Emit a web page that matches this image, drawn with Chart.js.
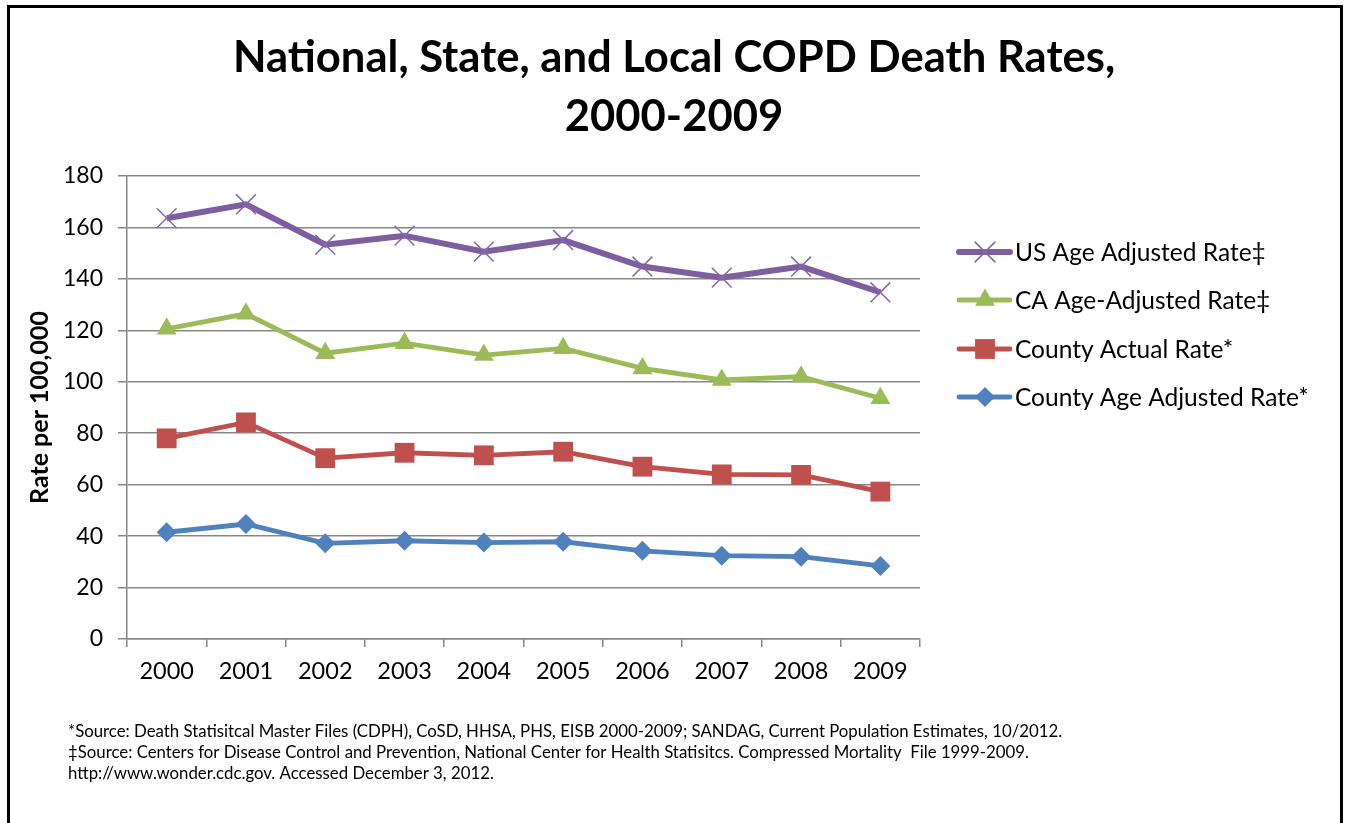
<!DOCTYPE html>
<html>
<head>
<meta charset="utf-8">
<title>National, State, and Local COPD Death Rates, 2000-2009</title>
<script src="https://cdn.jsdelivr.net/npm/chart.js@4.4.1/dist/chart.umd.min.js"></script>
<style>
  html, body { margin: 0; padding: 0; background: #fff; overflow: hidden; }
  #wrap { position: relative; width: 1346px; height: 823px; }
  #chart { position: absolute; left: 0; top: 0; }
  #frame {
    position: absolute; left: 7px; top: 5px; width: 1336px; height: 840px;
    border: 3px solid #000; border-bottom: none; box-sizing: border-box;
    pointer-events: none;
  }
</style>
</head>
<body>
<div id="wrap">
  <canvas id="chart" width="1346" height="823"></canvas>
  <div id="frame"></div>
</div>
<script>
// Death rates per 100,000, 2000-2009
const years = ['2000', '2001', '2002', '2003', '2004', '2005', '2006', '2007', '2008', '2009'];
const usAgeAdjusted     = [163.6, 169.0, 153.3, 156.8, 150.6, 155.1, 144.8, 140.5, 144.8, 134.8];
const caAgeAdjusted     = [120.6, 126.4, 111.1, 115.0, 110.4, 113.0, 105.2, 100.7, 102.0, 93.6];
const countyActual      = [78.0, 84.2, 70.3, 72.4, 71.4, 72.8, 67.0, 64.0, 63.8, 57.3];
const countyAgeAdjusted = [41.5, 44.7, 37.2, 38.2, 37.5, 37.8, 34.3, 32.4, 32.0, 28.4];
const seriesNames = [
  'US Age Adjusted Rate\u2021',
  'CA Age-Adjusted Rate\u2021',
  'County Actual Rate*',
  'County Age Adjusted Rate*'
];
const yMin = 0, yMax = 180, yStep = 20;

const titleLines = ['National, State, and Local COPD Death Rates,', '2000-2009'];
const yAxisTitle = 'Rate per 100,000';
const footnotes = [
  '*Source: Death Statisitcal Master Files (CDPH), CoSD, HHSA, PHS, EISB 2000-2009; SANDAG, Current Population Estimates, 10/2012.',
  '\u2021Source: Centers for Disease Control and Prevention, National Center for Health Statisitcs. Compressed Mortality  File 1999-2009.',
  'http://www.wonder.cdc.gov. Accessed December 3, 2012.'
];

const FONT = 'Lato, "Open Sans", "Liberation Sans", sans-serif';
const GRID = '#878787';

const datasets = [
  { label: seriesNames[0], data: usAgeAdjusted, borderColor: '#7D5FA0', backgroundColor: '#8E72B3',
    borderWidth: 6, pointStyle: 'crossRot', pointRadius: 14, pointBorderWidth: 1.5,
    pointBorderColor: '#8466AC', pointBackgroundColor: '#8466AC' },
  { label: seriesNames[1], data: caAgeAdjusted, borderColor: '#9BBB59', backgroundColor: '#9BBB59',
    borderWidth: 4.8, pointStyle: 'triangle', pointRadius: 11.5, pointBorderWidth: 0,
    pointBorderColor: '#9BBB59', pointBackgroundColor: '#9BBB59' },
  { label: seriesNames[2], data: countyActual, borderColor: '#C0504D', backgroundColor: '#C0504D',
    borderWidth: 4.8, pointStyle: 'rect', pointRadius: 14, pointBorderWidth: 0,
    pointBorderColor: '#C0504D', pointBackgroundColor: '#C0504D' },
  { label: seriesNames[3], data: countyAgeAdjusted, borderColor: '#4F81BD', backgroundColor: '#4F81BD',
    borderWidth: 4.8, pointStyle: 'rectRot', pointRadius: 10, pointBorderWidth: 0,
    pointBorderColor: '#4F81BD', pointBackgroundColor: '#4F81BD' }
];
datasets.forEach(d => { d.tension = 0; d.fill = false; d.pointHoverRadius = d.pointRadius; });

// Title, side legend and source notes drawn around the plot
const decorations = {
  id: 'decorations',
  afterDraw(chart) {
    const ctx = chart.ctx;
    ctx.save();
    ctx.fillStyle = '#000';

    // title
    ctx.textAlign = 'center';
    ctx.textBaseline = 'alphabetic';
    ctx.font = 'bold 43.6px ' + FONT;
    ctx.fillText(titleLines[0], 674, 72);
    ctx.fillText(titleLines[1], 674, 131);

    // legend: line sample with marker, then label
    const rows = [252, 300, 349, 397];
    chart.data.datasets.forEach((ds, i) => {
      const y = rows[i];
      ctx.beginPath();
      ctx.strokeStyle = ds.borderColor;
      ctx.lineWidth = ds.borderWidth;
      ctx.lineCap = 'round';
      ctx.moveTo(959, y);
      ctx.lineTo(1010, y);
      ctx.stroke();
      ctx.fillStyle = ds.pointBackgroundColor;
      ctx.strokeStyle = ds.pointBorderColor;
      ctx.lineWidth = ds.pointBorderWidth;
      Chart.helpers.drawPoint(ctx, {
        pointStyle: ds.pointStyle, radius: ds.pointRadius, rotation: 0,
        borderWidth: ds.pointBorderWidth
      }, 985, y);
      ctx.fillStyle = '#000';
      ctx.textAlign = 'left';
      ctx.textBaseline = 'middle';
      ctx.font = '24.5px ' + FONT;
      ctx.fillText(ds.label, 1015, y + 1);
    });

    // source notes
    ctx.textAlign = 'left';
    ctx.textBaseline = 'alphabetic';
    ctx.font = '16.8px ' + FONT;
    const base = [737, 758, 779];
    footnotes.forEach((t, i) => ctx.fillText(t, 68, base[i]));
    ctx.restore();
  }
};

new Chart(document.getElementById('chart'), {
  type: 'line',
  data: { labels: years, datasets },
  options: {
    responsive: false,
    animation: false,
    devicePixelRatio: 1,
    layout: { padding: { left: 0, right: 426, top: 176, bottom: 0 } },
    plugins: { legend: { display: false }, title: { display: false }, tooltip: { enabled: false } },
    scales: {
      x: {
        type: 'category',
        offset: true,
        grid: { offset: true, drawOnChartArea: false, drawTicks: true, tickLength: 8, color: GRID, lineWidth: 1.5 },
        border: { display: true, color: GRID, width: 1.5 },
        ticks: { color: '#000', font: { family: FONT, size: 23.5 }, padding: 10, maxRotation: 0 },
        afterFit(scale) { scale.height = 184; }
      },
      y: {
        min: yMin, max: yMax,
        ticks: { stepSize: yStep, color: '#000', font: { family: FONT, size: 23 }, padding: 15 },
        grid: { color: GRID, lineWidth: 1.5, tickLength: 9, drawTicks: true },
        border: { display: true, color: GRID, width: 1.5 },
        title: { display: true, text: yAxisTitle, color: '#000',
                 font: { family: FONT, size: 25, weight: 'bold' }, padding: { top: 25, bottom: 0 } },
        afterFit(scale) { scale.width = 127; }
      }
    }
  },
  plugins: [decorations]
});
</script>
</body>
</html>
